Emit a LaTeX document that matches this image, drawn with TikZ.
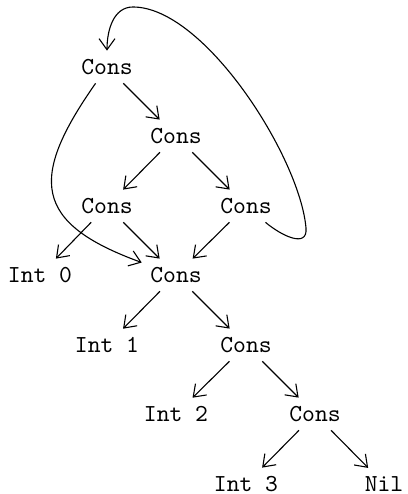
\documentclass[tikz,border=0pt]{standalone}
\usetikzlibrary{arrows.meta}
\begin{document}
\begin{tikzpicture}[x=0.014388cm,y=-0.014388cm,
  lbl/.style={font=\ttfamily},
  arr/.style={-{Straight Barb[length=4.5pt,width=6.5pt]}, line width=0.45pt}]
\useasboundingbox (0,0) rectangle (407,494);
\node[lbl] (c0) at (107,67) {Cons};
\node[lbl] (c1) at (176,136) {Cons};
\node[lbl] (c2) at (107,206) {Cons};
\node[lbl] (c3) at (246,206) {Cons};
\node[lbl] (i0) at (40,275) {Int 0};
\node[lbl] (c4) at (176,275) {Cons};
\node[lbl] (i1) at (107,345) {Int 1};
\node[lbl] (c5) at (246,345) {Cons};
\node[lbl] (i2) at (176,414) {Int 2};
\node[lbl] (c6) at (315,414) {Cons};
\node[lbl] (i3) at (246,484) {Int 3};
\node[lbl] (nil) at (384,484) {Nil};
\coordinate (b) at (306,228);
\coordinate (t) at (133,7);
\draw[arr] (c0) -- (c1);
\draw[arr] (c1) -- (c2);
\draw[arr] (c1) -- (c3);
\draw[arr] (c2) -- (i0);
\draw[arr] (c2) -- (c4);
\draw[arr] (c3) -- (c4);
\draw[arr] (c4) -- (i1);
\draw[arr] (c4) -- (c5);
\draw[arr] (c5) -- (i2);
\draw[arr] (c5) -- (c6);
\draw[arr] (c6) -- (i3);
\draw[arr] (c6) -- (nil);
\draw[arr] (c0) to[out=-125,in=160,looseness=1.6] (c4);
\draw[arr] (c3) to[out=-40,in=-85,looseness=1.3] (b)
  to[out=95,in=0,looseness=0.65] (t)
  to[out=180,in=90] (c0);
\end{tikzpicture}
\end{document}
